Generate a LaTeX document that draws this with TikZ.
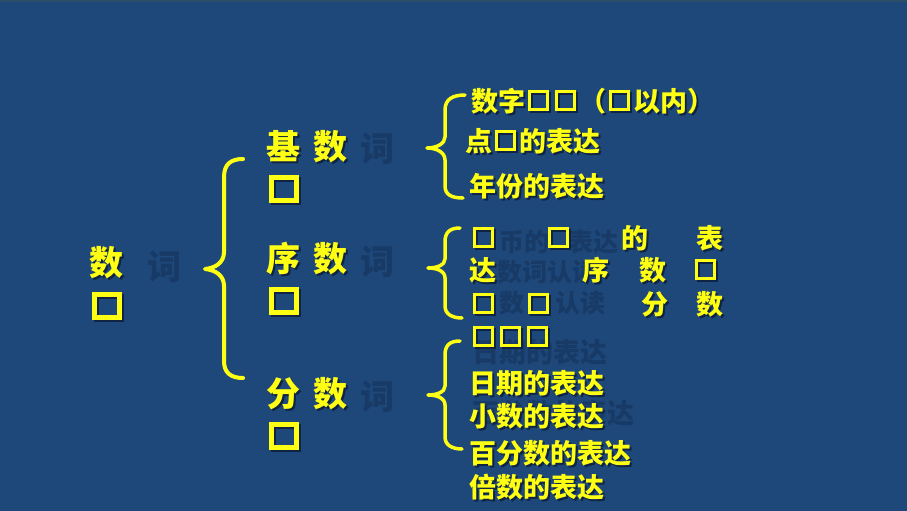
\documentclass[tikz,border=0pt]{standalone}
\usepackage{fontspec}
\newfontfamily\cjk{Noto Sans CJK SC}
\definecolor{bg}{HTML}{1F487A}
\definecolor{topband}{HTML}{2A4E68}
\definecolor{ghost}{HTML}{173A66}
\definecolor{shadowc}{HTML}{0F2444}
\definecolor{yel}{HTML}{FFFF14}
\newcommand\tofu{\makebox[1em]{\raisebox{3pt}{\setlength\fboxrule{3.2pt}\setlength\fboxsep{0pt}\fbox{\rule{0pt}{15pt}\rule{15pt}{0pt}}}}}
\newcommand\yt[5]{%
  \node[#2,text=shadowc,xshift=2pt,yshift=-2pt] at (#3,#4) {#5};
  \node[#2,text=yel] (#1) at (#3,#4) {#5};}
\newcommand\bt[3]{%
  \node[bigtofu,draw=shadowc,xshift=2pt,yshift=-2pt] at (#2,#3) {};
  \node[bigtofu] (#1) at (#2,#3) {};}
\tikzset{
  big/.style={font=\cjk\bfseries\fontsize{34}{34}\selectfont, inner sep=0pt, anchor=base},
  sm/.style={font=\cjk\bfseries\fontsize{27}{27}\selectfont, inner sep=0pt, anchor=base west},
  gs/.style={font=\cjk\bfseries\fontsize{25}{25}\selectfont, inner sep=0pt, anchor=base west, text=ghost},
  gm/.style={font=\cjk\bfseries\fontsize{27}{27}\selectfont, inner sep=0pt, anchor=base west, text=ghost},
  bigtofu/.style={draw=yel, line width=5pt, minimum width=25pt, minimum height=23pt, inner sep=0pt},
  bracebig/.style={draw=yel, line width=4pt, line cap=round, line join=round},
  bracesm/.style={draw=yel, line width=3.5pt, line cap=round, line join=round}
}
\begin{document}
\begin{tikzpicture}[x=1pt,y=-1pt]
\useasboundingbox (0,0) rectangle (907,511);
\fill[bg] (0,0) rectangle (907,511);
\fill[topband] (0,0) rectangle (907,2);

% ghost texts
\node[big,text=ghost] (gci0) at (164,279) {词};
\node[big,text=ghost] (gci1) at (377.5,161) {词};
\node[big,text=ghost] (gci2) at (377.5,274) {词};
\node[big,text=ghost] (gci3) at (377.5,409) {词};
\node[gs] (gb1) at (499,251.5) {币的};
\node[gs] (gb2) at (568,251.5) {表达};
\node[gs] (gb3) at (497,281.5) {数词认读};
\node[gs] (gb4) at (499,312.5) {数};
\node[gs] (gb5) at (555,312.5) {认读};
\node[gm] (gb6) at (472,362) {日期的表达};
\node[gm] (gb7) at (472,423) {百分数的表达};

% main column
\yt{shu}{big}{106.5}{275}{数}
\bt{shuT}{107}{306}
\yt{ji}{big}{283.5}{159}{基}
\yt{jiB}{big}{330}{159}{数}
\bt{jiT}{283.5}{188.5}
\yt{xu}{big}{283}{271}{序}
\yt{xuB}{big}{330}{271}{数}
\bt{xuT}{283.5}{301}
\yt{fen}{big}{283}{406}{分}
\yt{fenB}{big}{330}{406}{数}
\bt{fenT}{283.5}{436}

% big brace
\draw[bracebig] (243,159) .. controls (231,159) and (224,164) .. (224,177)
  -- (224,252) .. controls (224,263) and (215,268) .. (205,269)
  .. controls (215,270) and (224,275) .. (224,286)
  -- (224,361) .. controls (224,373) and (231,378) .. (243,378);

% small braces
\draw[bracesm] (465,95) .. controls (453,95) and (445,99) .. (445,110)
  -- (445,137) .. controls (445,144) and (436,148) .. (427,148)
  .. controls (436,148) and (445,152) .. (445,160)
  -- (445,186) .. controls (445,195) and (452,198) .. (463,198);
\draw[bracesm] (460,228) .. controls (450,228) and (445,232) .. (445,242)
  -- (445,259) .. controls (445,265) and (437,268) .. (428,268)
  .. controls (437,268) and (445,271) .. (445,278)
  -- (445,306) .. controls (445,314) and (452,318) .. (462,318);
\draw[bracesm] (460,341) .. controls (450,341) and (445,345) .. (445,355)
  -- (445,386) .. controls (445,392) and (437,395) .. (428,395)
  .. controls (437,395) and (445,398) .. (445,405)
  -- (445,437) .. controls (445,445) and (452,449) .. (462,449);

% brace 1 items
\yt{a1}{sm}{471}{111}{数字\tofu\tofu（\tofu 以内）}
\yt{a2}{sm}{465}{151}{点\tofu 的表达}
\yt{a3}{sm}{469}{196}{年份的表达}

% brace 2 items
\yt{b11}{sm}{469.5}{248}{\tofu}
\yt{b12}{sm}{544.5}{248}{\tofu}
\yt{b13}{sm}{621}{248}{的}
\yt{b14}{sm}{696}{248}{表}
\yt{b21}{sm}{469}{280}{达}
\yt{b22}{sm}{582}{280}{序}
\yt{b23}{sm}{639}{280}{数}
\yt{b24}{sm}{691.5}{280}{\tofu}
\yt{b31}{sm}{469.5}{314}{\tofu}
\yt{b32}{sm}{524.5}{314}{\tofu}
\yt{b33}{sm}{641}{314}{分}
\yt{b34}{sm}{696}{314}{数}
\yt{b41}{sm}{469.5}{347}{\tofu\tofu\tofu}

% brace 3 items
\yt{c1}{sm}{469}{393}{日期的表达}
\yt{c2}{sm}{469}{426}{小数的表达}
\yt{c3}{sm}{469}{463}{百分数的表达}
\yt{c4}{sm}{469}{497}{倍数的表达}
\end{tikzpicture}
\end{document}
